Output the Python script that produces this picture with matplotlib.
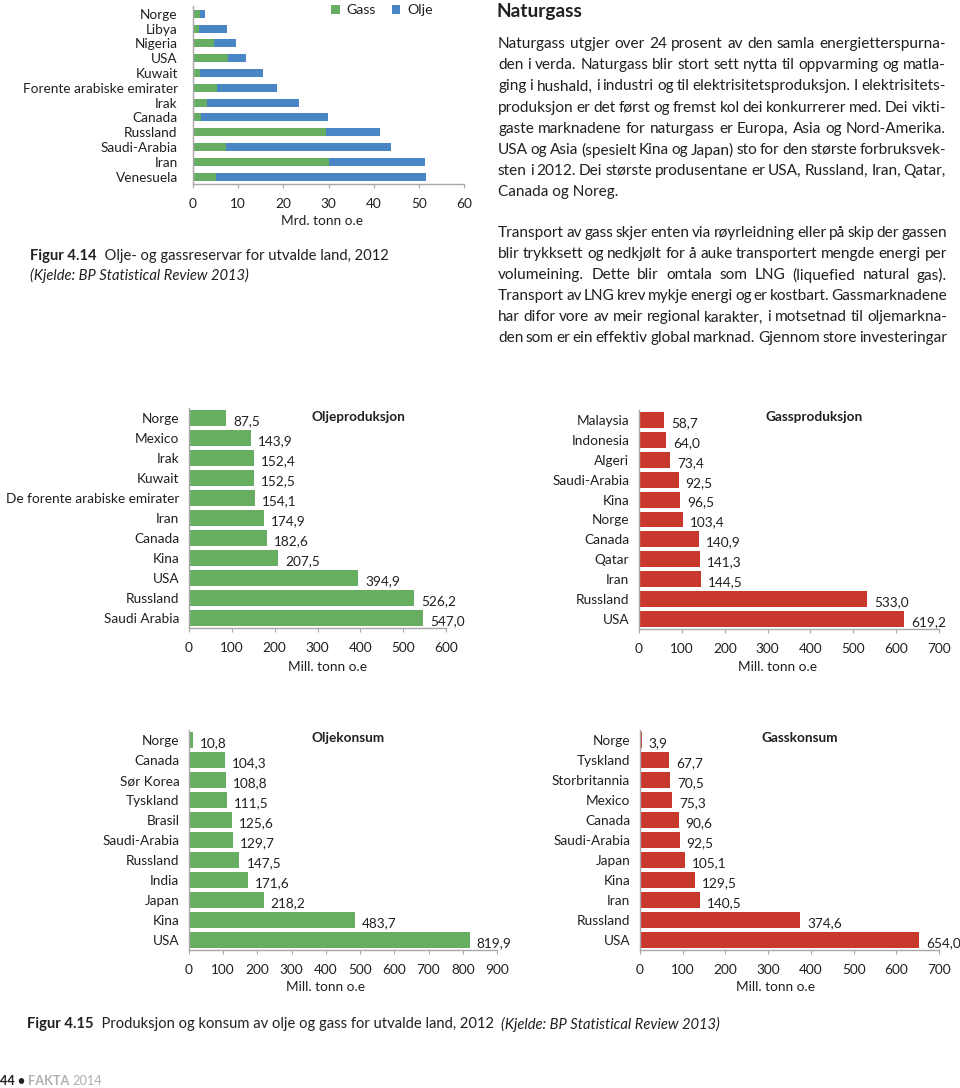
import matplotlib
matplotlib.use("Agg")
import matplotlib.pyplot as plt
import numpy as np

W, H = 960, 1088
DPI = 100

plt.rcParams["font.family"] = ["Lato", "DejaVu Sans"]
plt.rcParams["text.color"] = "#231f20"
plt.rcParams["xtick.color"] = "#231f20"
plt.rcParams["ytick.color"] = "#231f20"

GREEN = "#67ad62"
BLUE = "#4a85c6"
RED = "#c9382c"
SPINE = "#a8a8a8"
FS = 9.8
NARROW = ["Liberation Sans Narrow", "DejaVu Sans Condensed", "Lato"]


# DATA

# Figur 4.14 - reserves, Mrd. tonn o.e (top to bottom)
reserve_land = ["Norge", "Libya", "Nigeria", "USA", "Kuwait",
                "Forente arabiske emirater", "Irak", "Canada", "Russland",
                "Saudi-Arabia", "Iran", "Venesuela"]
reserve_gass = [1.6, 1.3, 4.6, 7.7, 1.5, 5.4, 3.2, 1.8, 29.5, 7.4, 30.2, 5.1]
reserve_olje = [1.1, 6.3, 5.0, 4.1, 14.0, 13.1, 20.3, 28.0, 12.0, 36.5, 21.1, 46.4]

# Figur 4.15 - Mill. tonn o.e
oil_prod_land = ["Norge", "Mexico", "Irak", "Kuwait", "De forente arabiske emirater",
                 "Iran", "Canada", "Kina", "USA", "Russland", "Saudi Arabia"]
oil_prod = [87.5, 143.9, 152.4, 152.5, 154.1, 174.9, 182.6, 207.5, 394.9, 526.2, 547.0]

gas_prod_land = ["Malaysia", "Indonesia", "Algeri", "Saudi-Arabia", "Kina", "Norge",
                 "Canada", "Qatar", "Iran", "Russland", "USA"]
gas_prod = [58.7, 64.0, 73.4, 92.5, 96.5, 103.4, 140.9, 141.3, 144.5, 533.0, 619.2]

oil_cons_land = ["Norge", "Canada", "Sør Korea", "Tyskland", "Brasil", "Saudi-Arabia",
                 "Russland", "India", "Japan", "Kina", "USA"]
oil_cons = [10.8, 104.3, 108.8, 111.5, 125.6, 129.7, 147.5, 171.6, 218.2, 483.7, 819.9]

gas_cons_land = ["Norge", "Tyskland", "Storbritannia", "Mexico", "Canada", "Saudi-Arabia",
                 "Japan", "Kina", "Iran", "Russland", "USA"]
gas_cons = [3.9, 67.7, 70.5, 75.3, 90.6, 92.5, 105.1, 129.5, 140.5, 374.6, 654.0]

body_para1 = [
    "Naturgass utgjer over 24 prosent av den samla energietterspurna-",
    "den i verda. Naturgass blir stort sett nytta til oppvarming og matla-",
    "ging i hushald, i industri og til elektrisitetsproduksjon. I elektrisitets-",
    "produksjon er det først og fremst kol dei konkurrerer med. Dei vikti-",
    "gaste marknadene for naturgass er Europa, Asia og Nord-Amerika.",
    "USA og Asia (spesielt Kina og Japan) sto for den største forbruksvek-",
    "sten i 2012. Dei største produsentane er USA, Russland, Iran, Qatar,",
    "Canada og Noreg.",
]
body_para2 = [
    "Transport av gass skjer enten via røyrleidning eller på skip der gassen",
    "blir trykksett og nedkjølt for å auke transportert mengde energi per",
    "volumeining. Dette blir omtala som LNG (liquefied natural gas).",
    "Transport av LNG krev mykje energi og er kostbart. Gassmarknadene",
    "har difor vore av meir regional karakter, i motsetnad til oljemarkna-",
    "den som er ein effektiv global marknad. Gjennom store investeringar",
]


fig = plt.figure(figsize=(W / DPI, H / DPI), dpi=DPI)
renderer = fig.canvas.get_renderer()


def px_axes(left, top, right, bottom):
    return fig.add_axes([left / W, 1 - bottom / H, (right - left) / W, (bottom - top) / H])


def fx(x):
    return x / W


def fy(y):
    return 1 - y / H


def style_axes(ax, xmax, step, n):
    for s in ["top", "right"]:
        ax.spines[s].set_visible(False)
    for s in ["left", "bottom"]:
        ax.spines[s].set_color(SPINE)
        ax.spines[s].set_linewidth(1.0)
    ax.set_xlim(0, xmax)
    ax.set_xticks(np.arange(0, xmax + 1, step))
    ax.set_ylim(n - 0.5, -0.5)
    ax.tick_params(axis="y", length=0, pad=7, labelsize=FS)
    ax.tick_params(axis="x", length=3, color=SPINE, pad=7, labelsize=FS)


def run_text(x, y, segments):
    # draw text pieces one after the other on a line
    for txt, kw in segments:
        t = fig.text(fx(x), fy(y), txt, ha="left", va="center", **kw)
        x += t.get_window_extent(renderer).width


def justified(x0, x1, y, line, justify, **kw):
    if not justify:
        fig.text(fx(x0), fy(y), line, ha="left", va="center", **kw)
        return
    words = line.split(" ")
    arts = [fig.text(0, fy(y), w, ha="left", va="center", **kw) for w in words]
    widths = [a.get_window_extent(renderer).width for a in arts]
    gap = (x1 - x0 - sum(widths)) / max(len(words) - 1, 1)
    x = x0
    for a, w in zip(arts, widths):
        a.set_x(fx(x))
        x += w + gap


def value_bars(ax, labels, values, color):
    y = np.arange(len(labels))
    ax.barh(y, values, height=0.8, color=color)
    ax.set_yticks(y)
    ax.set_yticklabels(labels)
    for i, v in enumerate(values):
        ax.annotate(f"{v:.1f}".replace(".", ","), (v, i), xytext=(7, -3),
                    textcoords="offset pixels", ha="left", va="center", fontsize=FS)


# Figur 4.14 - stacked reserves
ax0 = px_axes(193, 6.4, 464, 184)
y0 = np.arange(len(reserve_land))
ax0.barh(y0, reserve_gass, height=0.55, color=GREEN, label="Gass")
ax0.barh(y0, reserve_olje, left=reserve_gass, height=0.55, color=BLUE, label="Olje")
ax0.set_yticks(y0)
ax0.set_yticklabels(reserve_land)
style_axes(ax0, 60, 10, len(reserve_land))
ax0.tick_params(axis="y", pad=11)
fig.legend(loc="center left", bbox_to_anchor=(fx(331), fy(10)), ncol=2, frameon=False,
           fontsize=10.2, handlelength=0.6, handleheight=0.6, handletextpad=0.5,
           columnspacing=1.1, borderaxespad=0, borderpad=0)
fig.text(fx(322), fy(221), "Mrd. tonn o.e", ha="center", va="center", fontsize=FS)

run_text(30, 256, [("Figur 4.14", dict(fontsize=10.6, fontweight="bold")),
                   ("  Olje- og gassreservar for utvalde land, 2012", dict(fontsize=10.6))])
fig.text(fx(30), fy(275), "(Kjelde: BP Statistical Review 2013)", ha="left", va="center",
         fontsize=10.6, fontstyle="italic")

# Right column text
fig.text(fx(497), fy(11), "Naturgass", ha="left", va="center", fontsize=13.8, fontweight="bold")
for k, line in enumerate(body_para1):
    justified(498, 946, 44 + k * 21.2, line, k < len(body_para1) - 1, fontsize=11.1)
for k, line in enumerate(body_para2):
    justified(498, 947, 233 + k * 21.1, line, True, fontsize=11.1)

# Figur 4.15 panels
panels = [
    ((189, 408, 446, 628), oil_prod_land, oil_prod, GREEN, 600, "Oljeproduksjon", 312, 417, 327, 667),
    ((639, 410, 939, 629), gas_prod_land, gas_prod, RED, 700, "Gassproduksjon", 765, 417, 778, 667),
    ((189, 730, 497, 950), oil_cons_land, oil_cons, GREEN, 900, "Oljekonsum", 311, 738, 326, 987),
    ((640, 730, 939, 950), gas_cons_land, gas_cons, RED, 700, "Gasskonsum", 762, 738, 776, 987),
]
for box, labels, values, color, xmax, title, tx, ty, lx, ly in panels:
    ax = px_axes(*box)
    value_bars(ax, labels, values, color)
    style_axes(ax, xmax, 100, len(labels))
    fig.text(fx(tx), fy(ty), title, ha="left", va="center", fontsize=FS, fontweight="bold")
    fig.text(fx(lx), fy(ly), "Mill. tonn o.e", ha="center", va="center", fontsize=FS)

run_text(27, 1024, [("Figur 4.15", dict(fontsize=10.6, fontweight="bold", family=NARROW)),
                    ("  Produksjon og konsum av olje og gass for utvalde land, 2012  ",
                     dict(fontsize=10.6, family=NARROW)),
                    ("(Kjelde: BP Statistical Review 2013)",
                     dict(fontsize=10.6, fontstyle="italic", family=NARROW))])

run_text(0, 1081, [("44 • ", dict(fontsize=9.2, fontweight="bold", family=NARROW)),
                   ("FAKTA ", dict(fontsize=9.2, fontweight="bold", color="#b0b0b0", family=NARROW)),
                   ("2014", dict(fontsize=9.2, color="#b0b0b0", family=NARROW))])

fig.savefig("out.png", dpi=DPI)
